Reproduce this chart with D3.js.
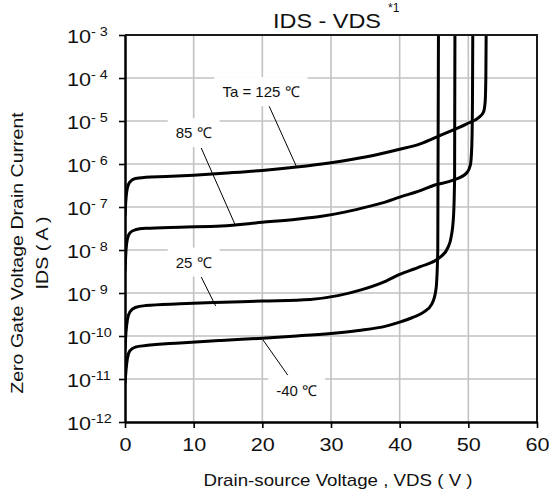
<!DOCTYPE html>
<html>
<head>
<meta charset="utf-8">
<script src="https://cdn.jsdelivr.net/npm/d3@7/dist/d3.min.js"></script>
<style>
  body { margin: 0; background: #fff; }
  svg text { font-family: "Liberation Sans", Arial, sans-serif; fill: #111; }
</style>
</head>
<body>
<svg id="chart" width="552" height="496"></svg>
<script>
// Axis ticks
const voltageTicks = [0, 10, 20, 30, 40, 50, 60];
const currentExponents = [-3, -4, -5, -6, -7, -8, -9, -10, -11, -12];

// Drain-source voltage (V) and zero-gate drain current (A) per ambient temperature
const vds125 = [0, 0.15, 0.35, 0.7, 1.5, 3, 6, 10, 15, 20, 25, 30, 35, 40, 43, 46, 49.7, 51.5, 52.2, 52.45, 52.55, 52.6];
const ids125 = [6.3e-8, 1.6e-7, 2.8e-7, 3.8e-7, 4.6e-7, 4.9e-7, 5.1e-7, 5.5e-7, 6.2e-7, 7.1e-7, 8.5e-7, 1.07e-6, 1.45e-6, 2.2e-6, 2.95e-6, 4.7e-6, 8.5e-6, 1.2e-5, 1.6e-5, 2.8e-5, 1.0e-4, 1.3e-3];

const vds85 = [0, 0.15, 0.35, 0.7, 1.5, 3, 8, 14, 20, 25, 28.4, 32, 35.7, 38, 40, 43, 45, 47.8, 49.8, 50.3, 50.5, 50.6, 50.65];
const ids85 = [3.2e-9, 1.0e-8, 1.8e-8, 2.5e-8, 2.95e-8, 3.2e-8, 3.4e-8, 3.6e-8, 4.4e-8, 5.2e-8, 6.0e-8, 7.6e-8, 1.05e-7, 1.32e-7, 1.7e-7, 2.4e-7, 3.2e-7, 4.2e-7, 6.3e-7, 9.5e-7, 2.5e-6, 2.5e-5, 1.3e-3];

const vds25 = [0, 0.15, 0.35, 0.7, 1.5, 3, 8, 13, 20, 27, 31, 34.5, 38, 40, 43, 45.9, 47, 47.5, 47.85, 48, 48.05];
const ids25 = [5.0e-11, 1.26e-10, 2.4e-10, 3.6e-10, 4.6e-10, 5.1e-10, 5.6e-10, 6.0e-10, 6.5e-10, 7.1e-10, 8.7e-10, 1.2e-9, 1.9e-9, 2.7e-9, 4.1e-9, 6.8e-9, 1.12e-8, 2.0e-8, 6.3e-8, 5.0e-7, 1.3e-3];

const vdsMinus40 = [0, 0.15, 0.35, 0.7, 1.5, 3, 8, 14, 20, 25, 30, 34, 38, 40, 42, 43.5, 44.7, 45.3, 45.55, 45.65];
const idsMinus40 = [7.9e-12, 1.6e-11, 3.0e-11, 4.5e-11, 5.5e-11, 6.0e-11, 6.9e-11, 7.9e-11, 8.9e-11, 1.0e-10, 1.15e-10, 1.35e-10, 1.7e-10, 2.1e-10, 2.75e-10, 3.6e-10, 5.6e-10, 1.26e-9, 1.0e-8, 1.3e-3];

// Curve labels: text, label centre (V, A), leader start (V, A), leader end on the curve (V, A)
const labelTexts = ["Ta = 125 \u2103", "85 \u2103", "25 \u2103", "-40 \u2103"];
const labelAt = [[19.8, 4.7e-5], [10, 5.2e-6], [10, 5.1e-9], [25, 5.2e-12]];
const leaderFrom = [[21.0, 2.2e-5], [11.1, 2.35e-6], [11.1, 2.35e-9], [20.1, 8.1e-11]];
const leaderTo = [[25.0, 8.5e-7], [16.0, 4.0e-8], [13.2, 5.0e-10], [23.7, 1.23e-11]];

const series = [
  { v: vds125, i: ids125 },
  { v: vds85, i: ids85 },
  { v: vds25, i: ids25 },
  { v: vdsMinus40, i: idsMinus40 }
];

const svg = d3.select("#chart");
const plotL = 125, plotR = 537, plotT = 35, plotB = 422;

const x = d3.scaleLinear().domain([0, 60]).range([plotL, plotR]);
const y = d3.scaleLog().domain([1e-12, 1e-3]).range([plotB, plotT]);

// widen glyphs along the text direction
function stretch(sel, k) {
  sel.each(function () {
    const len = this.getComputedTextLength();
    d3.select(this).attr("textLength", len * k).attr("lengthAdjust", "spacingAndGlyphs");
  });
}

// ---- plot layers, bottom to top ----
const gridLayer = svg.append("g");
const labelLayer = svg.append("g");
const curveLayer = svg.append("g");
const leaderLayer = svg.append("g");
const axisLayer = svg.append("g");

// grid
gridLayer.append("g").selectAll("line").data(voltageTicks.slice(1, -1)).join("line")
  .attr("x1", d => x(d)).attr("x2", d => x(d)).attr("y1", plotT).attr("y2", plotB)
  .attr("stroke", "#c2c2c2").attr("stroke-width", 1.6);
gridLayer.append("g").selectAll("line").data(currentExponents.slice(1, -1)).join("line")
  .attr("x1", plotL).attr("x2", plotR)
  .attr("y1", d => y(Math.pow(10, d))).attr("y2", d => y(Math.pow(10, d)))
  .attr("stroke", "#c2c2c2").attr("stroke-width", 1.6);

// curve labels with white backing and leader lines
labelTexts.forEach((t, k) => {
  const cx = x(labelAt[k][0]), cy = y(labelAt[k][1]);
  const g = labelLayer.append("g");
  const rect = g.append("rect").attr("fill", "#fff");
  const txt = g.append("text").attr("x", cx).attr("y", cy + 5)
    .attr("text-anchor", "middle").attr("font-size", 15).text(t);
  const w = txt.node().getComputedTextLength();
  rect.attr("x", cx - w / 2 - 8).attr("y", cy - 15).attr("width", w + 16).attr("height", 29);
  leaderLayer.append("line")
    .attr("x1", x(leaderFrom[k][0])).attr("y1", y(leaderFrom[k][1]))
    .attr("x2", x(leaderTo[k][0])).attr("y2", y(leaderTo[k][1]))
    .attr("stroke", "#000").attr("stroke-width", 1);
});

// curves, clipped to the plot area
const defs = svg.append("defs");
defs.append("clipPath").attr("id", "plotClip").append("rect")
  .attr("x", plotL).attr("y", plotT).attr("width", plotR - plotL).attr("height", plotB - plotT);

const curve = d3.line().x(d => x(d[0])).y(d => y(d[1])).curve(d3.curveMonotoneX);
curveLayer.attr("clip-path", "url(#plotClip)")
  .selectAll("path").data(series).join("path")
  .attr("d", s => curve(s.v.map((v, k) => [v, s.i[k]])))
  .attr("fill", "none").attr("stroke", "#000").attr("stroke-width", 3)
  .attr("stroke-linejoin", "round");

// frame: top and right
axisLayer.append("path")
  .attr("d", `M${plotL},${plotT}H${plotR}V${plotB}`)
  .attr("fill", "none").attr("stroke", "#1a1a1a").attr("stroke-width", 2);

// x axis
const xAxis = axisLayer.append("g").attr("transform", `translate(0,${plotB})`)
  .call(d3.axisBottom(x).tickValues(voltageTicks).tickSize(6).tickPadding(10).tickSizeOuter(0));
xAxis.select(".domain").attr("stroke", "#000").attr("stroke-width", 2.5);
xAxis.selectAll(".tick line").attr("stroke", "#000").attr("stroke-width", 1.6);
xAxis.selectAll(".tick text").attr("font-size", 18).attr("font-family", null).attr("fill", null);
stretch(xAxis.selectAll(".tick text"), 1.2);

// y axis
const yAxis = axisLayer.append("g").attr("transform", `translate(${plotL},0)`)
  .call(d3.axisLeft(y).tickValues(currentExponents.map(e => Math.pow(10, e)))
    .tickSize(6).tickSizeOuter(0).tickFormat(""));
yAxis.select(".domain").attr("stroke", "#000").attr("stroke-width", 2.5);
yAxis.selectAll(".tick line").attr("stroke", "#000").attr("stroke-width", 1.6);

// ---- text outside the plot ----
const yLabels = svg.append("g").selectAll("text").data(currentExponents).join("text")
  .attr("x", 67).attr("y", d => y(Math.pow(10, d)) + 7.5)
  .attr("font-size", 18);
yLabels.append("tspan").text("10");
yLabels.append("tspan").attr("font-size", 12).attr("dy", -7)
  .text(d => d > -10 ? "- " + (-d) : String(d));
stretch(yLabels, 1.2);

const xTitle = svg.append("text").attr("x", 338).attr("y", 486)
  .attr("text-anchor", "middle").attr("font-size", 17)
  .text("Drain-source Voltage , VDS ( V )");
stretch(xTitle, 1.1);

const yTitle = svg.append("g").attr("transform", "translate(0,253) rotate(-90)");
const yt1 = yTitle.append("text").attr("x", 0).attr("y", 22.5).attr("text-anchor", "middle")
  .attr("font-size", 17).text("Zero Gate Voltage Drain Current");
const yt2 = yTitle.append("text").attr("x", 0).attr("y", 48).attr("text-anchor", "middle")
  .attr("font-size", 17).text("IDS ( A )");
stretch(yt1, 1.15);
stretch(yt2, 1.15);

const title = svg.append("text").attr("x", 327).attr("y", 28)
  .attr("text-anchor", "middle").attr("font-size", 20).text("IDS - VDS");
stretch(title, 1.17);
svg.append("text").attr("x", 388).attr("y", 12).attr("font-size", 12).text("*1");
</script>
</body>
</html>
